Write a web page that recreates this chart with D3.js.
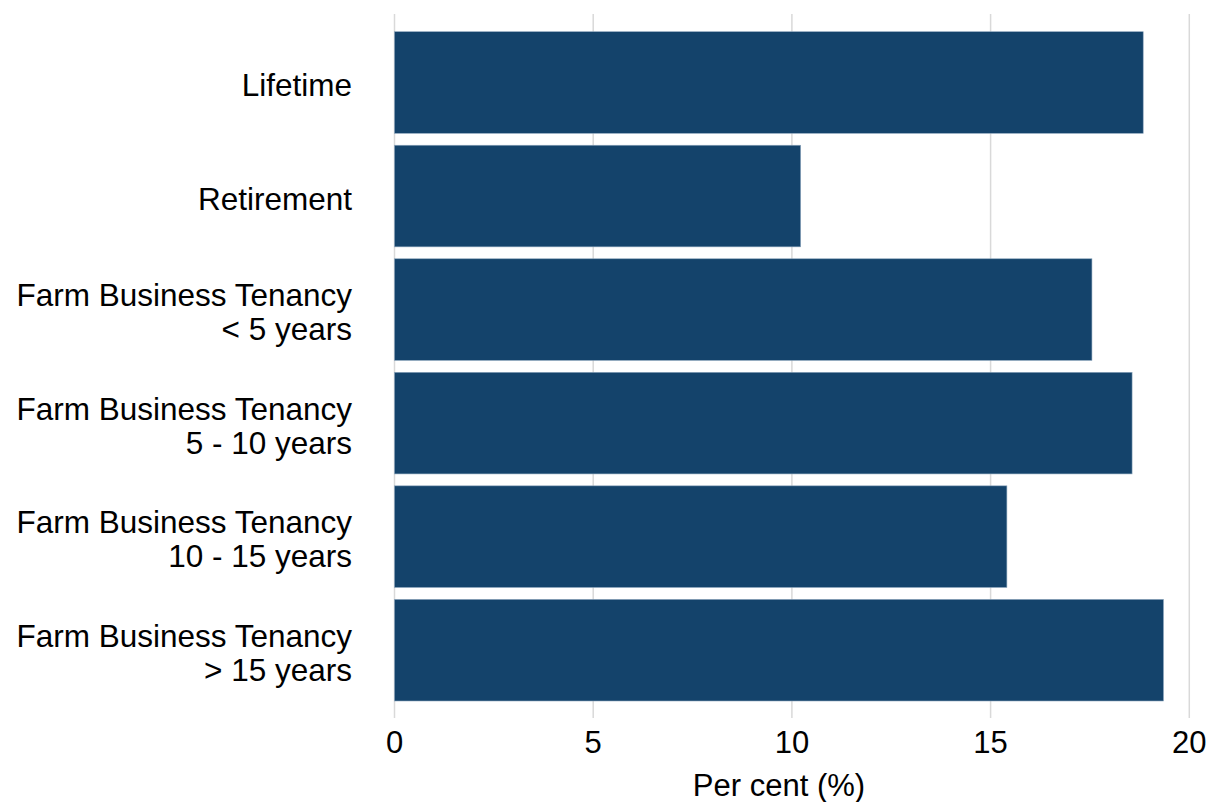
<!DOCTYPE html>
<html>
<head>
<meta charset="utf-8">
<script src="https://cdn.jsdelivr.net/npm/d3@7"></script>
<style>
  body { margin: 0; background: #fff; }
  text { font-family: "Liberation Sans", Arial, sans-serif; fill: #000; }
</style>
</head>
<body>
<svg id="chart" width="1208" height="802"></svg>
<script>
// tenancy types, each label split over lines
var categories = [
    ["Lifetime"],
    ["Retirement"],
    ["Farm Business Tenancy", "< 5 years"],
    ["Farm Business Tenancy", "5 - 10 years"],
    ["Farm Business Tenancy", "10 - 15 years"],
    ["Farm Business Tenancy", "> 15 years"]
];
var values = [18.84, 10.22, 17.55, 18.56, 15.41, 19.35];
var xTicks = [0, 5, 10, 15, 20];
var xTitle = "Per cent (%)";

var svg = d3.select("#chart");

var x = d3.scaleLinear().domain([0, 20]).range([394.5, 1189.3]);

var y = d3.scaleBand()
    .domain(d3.range(categories.length))
    .range([31.7, 701])
    .paddingInner(0.105)
    .paddingOuter(0);

// vertical gridlines
svg.append("g")
    .selectAll("line")
    .data(xTicks)
    .enter().append("line")
    .attr("x1", function(d) { return x(d); })
    .attr("x2", function(d) { return x(d); })
    .attr("y1", 14)
    .attr("y2", 718)
    .style("stroke", "#d9d9d9")
    .style("stroke-width", 1.5);

// bars
svg.append("g")
    .selectAll("rect")
    .data(values)
    .enter().append("rect")
    .attr("x", x(0))
    .attr("y", function(d, i) { return y(i); })
    .attr("width", function(d) { return x(d) - x(0); })
    .attr("height", y.bandwidth())
    .style("fill", "#14436b")
    .style("stroke", "#8da6bd")
    .style("stroke-width", 0.6);

// category labels
var labels = svg.append("g")
    .selectAll("text")
    .data(categories)
    .enter().append("text")
    .attr("text-anchor", "end")
    .style("font-size", "31.5px")
    .attr("transform", function(d, i) {
        var cy = y(i) + y.bandwidth() / 2 + 2.5;
        return "translate(352," + (cy - (d.length - 1) * 17) + ")";
    });

labels.selectAll("tspan")
    .data(function(d) { return d; })
    .enter().append("tspan")
    .attr("x", 0)
    .attr("y", function(d, i) { return i * 34; })
    .attr("dy", "0.35em")
    .text(function(d) { return d; });

// x tick labels
svg.append("g")
    .selectAll("text")
    .data(xTicks)
    .enter().append("text")
    .attr("x", function(d) { return x(d); })
    .attr("y", 742)
    .attr("dy", "0.35em")
    .attr("text-anchor", "middle")
    .style("font-size", "31px")
    .text(function(d) { return d; });

svg.append("text")
    .attr("x", 779)
    .attr("y", 785)
    .attr("dy", "0.35em")
    .attr("text-anchor", "middle")
    .style("font-size", "31px")
    .text(xTitle);
</script>
</body>
</html>
